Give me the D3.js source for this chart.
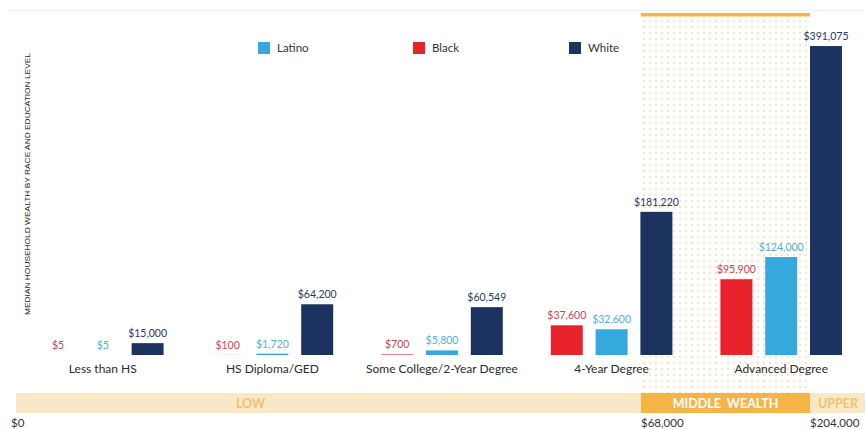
<!DOCTYPE html>
<html><head><meta charset="utf-8">
<script src="https://cdn.jsdelivr.net/npm/d3@7"></script>
<style>
html,body{margin:0;padding:0;background:#fff;}
svg{display:block;font-family:Lato,"Open Sans",sans-serif;}
</style></head>
<body><svg id="chart" width="865" height="429"></svg>
<script>
const categories = ["Less than HS","HS Diploma/GED","Some College/2-Year Degree","4-Year Degree","Advanced Degree"];
const races = ["Black","Latino","White"];
const legendOrder = ["Latino","Black","White"];
const blackValues  = [5, 100, 700, 37600, 95900];
const latinoValues = [5, 1720, 5800, 32600, 124000];
const whiteValues  = [15000, 64200, 60549, 181220, 391075];
const wealthBreaks = [0, 68000, 204000];
const wealthTickLabels = ["$0","$68,000","$204,000"];
const wealthBands = [
  {name:"LOW", from:0, to:68000},
  {name:"MIDDLE  WEALTH", from:68000, to:204000},
  {name:"UPPER", from:204000, to:260000}
];
const colors = {Black:"#e8232b", Latino:"#35a8dd", White:"#1b335e"};
const labelColors = {Black:"#d2404d", Latino:"#4fb0dc", White:"#27395a"};

const seriesByRace = {Black:blackValues, Latino:latinoValues, White:whiteValues};
const data = categories.map((c,i)=>({cat:c, values:races.map(r=>({race:r, value:seriesByRace[r][i]}))}));

const svg = d3.select("#chart");
const W = 865, H = 429;

const x0 = d3.scaleBand().domain(categories).range([18, 866]).paddingInner(0).paddingOuter(0);
const x1 = d3.scaleBand().domain(races).range([0, x0.bandwidth()]).paddingInner(0.286).paddingOuter(0.536);
const y = d3.scaleLinear().domain([0, 400000]).range([355, 39]);
const wx = d3.scaleLinear().domain([0, 68000, 204000, 260000]).range([16, 641, 810, 865]);

// faint top rule
svg.append("line").attr("x1",8).attr("x2",W).attr("y1",10.5).attr("y2",10.5)
  .attr("stroke","#f0f0f0").attr("stroke-width",1);

// dotted middle wealth region
const defs = svg.append("defs");
const pat = defs.append("pattern").attr("id","dots").attr("patternUnits","userSpaceOnUse")
  .attr("width",6).attr("height",6).attr("x",wx(68000)).attr("y",18);
pat.append("circle").attr("cx",3).attr("cy",3).attr("r",0.8).attr("fill","#ecc27e");
svg.append("rect").attr("x",wx(68000)).attr("y",16).attr("width",wx(204000)-wx(68000)).attr("height",393-16)
  .attr("fill","url(#dots)");
svg.append("rect").attr("x",wx(68000)).attr("y",13).attr("width",wx(204000)-wx(68000)).attr("height",3.5)
  .attr("fill","#f6b447");

// y-axis title
svg.append("text").attr("transform","translate(30,184) rotate(-90)")
  .attr("text-anchor","middle").attr("font-size",8).attr("fill","#222")
  .attr("font-family","Liberation Sans, Arial, sans-serif")
  .attr("textLength",262).attr("lengthAdjust","spacingAndGlyphs")
  .text("MEDIAN HOUSEHOLD WEALTH BY RACE AND EDUCATION LEVEL");

// legend
const legX = {Latino:258, Black:413, White:569};
const leg = svg.append("g");
legendOrder.forEach(r=>{
  leg.append("rect").attr("x",legX[r]).attr("y",42).attr("width",12).attr("height",12).attr("fill",colors[r]);
  leg.append("text").attr("x",legX[r]+19).attr("y",52).attr("font-size",11.5).attr("fill","#333").text(r);
});

// bars
const g = svg.selectAll("g.grp").data(data).join("g").attr("class","grp")
  .attr("transform",d=>`translate(${x0(d.cat)},0)`);
g.selectAll("rect").data(d=>d.values).join("rect")
  .attr("x",d=>x1(d.race)).attr("width",x1.bandwidth())
  .attr("y",d=>y(d.value)).attr("height",d=>y(0)-y(d.value))
  .attr("fill",d=>colors[d.race]);
g.selectAll("text.val").data(d=>d.values).join("text").attr("class","val")
  .attr("x",d=>x1(d.race)+x1.bandwidth()/2).attr("y",d=>y(d.value)-6)
  .attr("text-anchor","middle").attr("font-size",10.5).attr("fill",d=>labelColors[d.race])
  .text(d=>d3.format("$,")(d.value));
g.append("text").attr("x",x0.bandwidth()/2).attr("y",373).attr("text-anchor","middle")
  .attr("font-size",12).attr("fill","#2b2b2b").text(d=>d.cat);

// wealth bands
const bandY = 393, bandH = 20;
wealthBands.forEach(b=>{
  const xa = wx(b.from), xb = Math.min(wx(b.to), W);
  const mid = b.name.startsWith("MIDDLE");
  svg.append("rect").attr("x",xa).attr("y",bandY).attr("width",xb-xa).attr("height",bandH)
    .attr("fill", mid ? "#f6b447" : "#f8e8c8");
  svg.append("text").attr("x", b.name==="UPPER" ? xa+28 : (xa+xb)/2 + (b.name==="LOW"? -78:0))
    .attr("y",bandY+14.5).attr("text-anchor","middle").attr("font-size",12.5).attr("font-weight",700)
    .attr("fill", mid ? "#fff" : "#f4c06c").style("white-space","pre")
    .text(b.name);
});

// wealth tick labels
wealthBreaks.forEach((v,i)=>{
  svg.append("text").attr("x",wx(v)+(i===0?-5:0)).attr("y",426.5).attr("font-size",11.5)
    .attr("fill","#333").text(wealthTickLabels[i]);
});
</script></body></html>
